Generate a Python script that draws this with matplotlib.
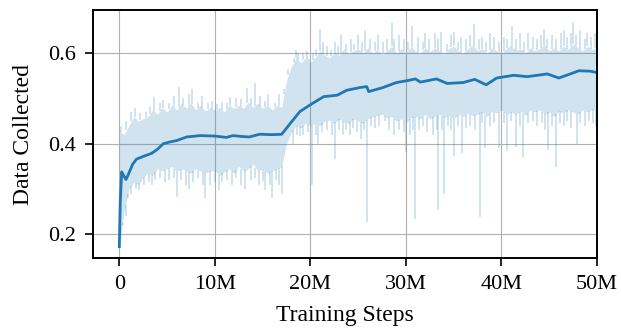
import numpy as np
import matplotlib
matplotlib.use("Agg")
import matplotlib.pyplot as plt

plt.rcParams['font.family'] = ['Liberation Serif', 'DejaVu Serif']

# smoothed curve (millions of steps, value)
smooth_x = [0, 0.1, 0.25, 0.45, 0.7, 1.0, 1.4, 1.8, 2.5, 3.4, 4.0, 4.6, 5.3, 6.0,
            7.05, 8.45, 10.0, 11.2, 11.9, 12.8, 13.6, 14.7, 16.0, 17.0, 17.9,
            18.9, 20.1, 21.4, 22.8, 23.8, 25.2, 25.9, 26.1, 27.6, 29.0, 30.1,
            31.0, 31.5, 33.2, 34.3, 36.0, 37.2, 38.4, 39.5, 41.3, 42.7, 44.8,
            46.0, 47.2, 48.1, 49.3, 50.0]
smooth_y = [0.173, 0.27, 0.338, 0.33, 0.321, 0.335, 0.355, 0.366, 0.372, 0.379, 0.388,
            0.400, 0.404, 0.407, 0.415, 0.418, 0.417, 0.414, 0.418, 0.416, 0.415,
            0.421, 0.420, 0.421, 0.445, 0.471, 0.4875, 0.504, 0.507, 0.518, 0.524,
            0.526, 0.515, 0.524, 0.535, 0.539, 0.543, 0.536, 0.543, 0.533, 0.535,
            0.542, 0.530, 0.545, 0.551, 0.548, 0.554, 0.545, 0.554, 0.561, 0.560,
            0.557]

# raw data spread: dense core of the noisy raw curve, every 0.5M steps
band_x = np.arange(0, 50.01, 0.5)
band_hi = [0.43, 0.42, 0.44, 0.46, 0.45, 0.455, 0.46, 0.475, 0.465, 0.48,
           0.47, 0.485, 0.475, 0.49, 0.478, 0.49, 0.475, 0.485, 0.472, 0.48,
           0.475, 0.48, 0.47, 0.485, 0.478, 0.485, 0.478, 0.492, 0.48, 0.49,
           0.478, 0.485, 0.475, 0.485, 0.48, 0.54, 0.57, 0.59, 0.578, 0.59,
           0.58, 0.59, 0.605, 0.595, 0.59, 0.6, 0.595, 0.61, 0.598, 0.605,
           0.61, 0.6, 0.612, 0.6, 0.608, 0.598, 0.605, 0.615, 0.6, 0.61,
           0.6, 0.615, 0.605, 0.6, 0.612, 0.603, 0.612, 0.605, 0.6, 0.61,
           0.615, 0.605, 0.6, 0.61, 0.618, 0.605, 0.61, 0.6, 0.612, 0.605,
           0.6, 0.61, 0.618, 0.605, 0.61, 0.6, 0.612, 0.605, 0.61, 0.618,
           0.605, 0.612, 0.605, 0.615, 0.608, 0.62, 0.612, 0.605, 0.615, 0.608,
           0.612]
band_lo = [0.17, 0.25, 0.3, 0.315, 0.31, 0.325, 0.335, 0.33, 0.345, 0.34,
           0.345, 0.35, 0.34, 0.345, 0.34, 0.335, 0.345, 0.34, 0.335, 0.34,
           0.34, 0.33, 0.338, 0.345, 0.335, 0.35, 0.34, 0.345, 0.355, 0.34,
           0.345, 0.335, 0.34, 0.345, 0.35, 0.4, 0.425, 0.44, 0.435, 0.445,
           0.44, 0.445, 0.44, 0.45, 0.452, 0.445, 0.455, 0.448, 0.445, 0.455,
           0.45, 0.445, 0.455, 0.46, 0.462, 0.465, 0.458, 0.46, 0.45, 0.455,
           0.445, 0.458, 0.46, 0.455, 0.465, 0.455, 0.46, 0.465, 0.458, 0.462,
           0.455, 0.465, 0.46, 0.468, 0.462, 0.465, 0.47, 0.46, 0.472, 0.468,
           0.475, 0.465, 0.47, 0.465, 0.472, 0.462, 0.475, 0.47, 0.475, 0.465,
           0.47, 0.46, 0.472, 0.468, 0.475, 0.47, 0.465, 0.475, 0.47, 0.476,
           0.475]

# raw data excursions above the core
up_x = [0.15, 0.75, 1.25, 1.6, 2.2, 2.75, 3.2, 3.6, 4.25, 4.6, 5.2, 5.75, 6.2, 6.7,
        7.25, 7.6, 8.2, 8.7, 9.25, 9.75, 10.25, 10.75, 11.25, 11.6, 12.25, 12.75,
        13.4, 13.8, 14.2, 14.75, 15.25, 15.6, 16.25, 16.7, 17.25,
        17.7, 18.25, 18.5, 18.75, 19.25, 19.6, 19.9, 20.25, 20.6,
        21.0, 21.35, 21.75, 22.2, 22.6, 22.9, 23.2, 23.75, 24.25, 24.6, 25.0,
        25.4, 25.7, 26.25, 26.75, 27.1, 27.6, 28.0, 28.5, 28.8, 29.25, 29.75,
        30.25, 30.6, 31.25, 31.75, 32.0, 32.4, 33.0, 33.4, 33.7, 34.25, 34.75,
        35.0, 35.4, 35.75, 36.25, 36.75, 37.1, 37.6, 38.0, 38.4, 38.8, 39.25,
        39.75, 40.25, 40.6, 41.1, 41.5, 41.9, 42.4, 42.8, 43.25, 43.75, 44.1,
        44.4, 44.8, 45.25, 45.75, 46.2, 46.5, 46.9, 47.25, 47.5, 47.8, 48.25,
        48.7, 49.0, 49.4, 49.8]
up_y = [0.44, 0.45, 0.47, 0.478, 0.468, 0.47, 0.48, 0.504, 0.49, 0.496, 0.49, 0.505,
        0.526, 0.50, 0.51, 0.52, 0.49, 0.505, 0.49, 0.495, 0.488, 0.492, 0.49, 0.504,
        0.50, 0.498, 0.522, 0.50, 0.533, 0.505, 0.495, 0.51, 0.49, 0.51, 0.52,
        0.565, 0.59, 0.606, 0.60, 0.60, 0.605, 0.587, 0.60, 0.61,
        0.654, 0.625, 0.615, 0.607, 0.625, 0.615, 0.639, 0.62, 0.63, 0.62, 0.64,
        0.625, 0.65, 0.63, 0.625, 0.64, 0.625, 0.63, 0.668, 0.63, 0.64, 0.63,
        0.625, 0.66, 0.635, 0.625, 0.645, 0.63, 0.645, 0.63, 0.646, 0.62, 0.64,
        0.646, 0.625, 0.635, 0.63, 0.64, 0.665, 0.63, 0.635, 0.625, 0.645, 0.635,
        0.625, 0.635, 0.63, 0.66, 0.63, 0.645, 0.625, 0.645, 0.635, 0.63, 0.64,
        0.654, 0.63, 0.64, 0.63, 0.645, 0.65, 0.635, 0.645, 0.668, 0.64, 0.65,
        0.63, 0.645, 0.635, 0.645]

# raw data excursions below the core
down_x = [0.35, 0.65, 0.9, 1.25, 1.75, 2.1, 2.6, 3.1, 3.4, 3.75, 4.25, 4.75, 5.25,
          5.75, 6.0, 6.5, 7.0, 7.3, 7.75, 8.25, 8.75, 9.0, 9.5, 10.0, 10.4, 10.8,
          11.25, 11.75, 12.25, 12.75, 13.2, 13.75, 14.25, 14.6, 15.0, 15.3, 15.75,
          16.0, 16.4, 16.75, 17.0,
          17.7, 18.2, 18.6, 18.9, 19.25, 19.75, 20.2, 20.6, 20.8, 21.25, 21.75,
          22.25, 22.6, 23.0, 23.4, 23.75, 24.1, 24.5, 24.9, 25.3, 25.6, 25.9,
          26.3, 26.75, 27.2, 27.8, 28.2, 28.8, 29.25, 29.75, 30.0, 30.4, 30.75,
          31.0, 31.4, 31.75, 32.25, 32.8, 33.2, 33.4,
          33.75, 34.0, 34.4, 34.75, 35.0, 35.4, 35.9, 36.25, 36.75, 37.25, 37.7,
          38.0, 38.3, 38.75, 39.25, 39.7, 40.25, 40.6, 41.0, 41.5, 41.9, 42.3,
          42.75, 43.25, 43.75, 44.25, 44.6, 44.9, 45.25, 45.7, 46.1, 46.5, 46.9,
          47.3, 47.9, 48.25, 48.75, 49.2, 49.6, 49.9]
down_y = [0.221, 0.24, 0.28, 0.29, 0.30, 0.297, 0.31, 0.315, 0.31, 0.32, 0.325,
          0.315, 0.32, 0.325, 0.283, 0.32, 0.31, 0.30, 0.315, 0.325, 0.31, 0.28,
          0.31, 0.315, 0.298, 0.315, 0.32, 0.31, 0.325, 0.31, 0.30, 0.32, 0.325,
          0.31, 0.318, 0.298, 0.31, 0.28, 0.32, 0.31, 0.29,
          0.41, 0.40, 0.42, 0.418, 0.42, 0.425, 0.308, 0.42, 0.40, 0.425, 0.43,
          0.42, 0.367, 0.43, 0.42, 0.43, 0.42, 0.435, 0.425, 0.41, 0.43, 0.227,
          0.44, 0.435, 0.44, 0.45, 0.43, 0.42, 0.43, 0.425, 0.382, 0.42, 0.43,
          0.235, 0.43, 0.44, 0.425, 0.42, 0.43, 0.254,
          0.43, 0.29, 0.44, 0.43, 0.374, 0.44, 0.38, 0.435, 0.44, 0.43, 0.238,
          0.445, 0.39, 0.44, 0.445, 0.39, 0.445, 0.385, 0.45, 0.393, 0.44, 0.371,
          0.445, 0.45, 0.44, 0.445, 0.43, 0.386, 0.44, 0.349, 0.445, 0.44, 0.45,
          0.435, 0.40, 0.445, 0.44, 0.45, 0.445, 0.44]

blue = '#1f77b4'
M = 1e6

fig = plt.figure(figsize=(6.21, 3.31), dpi=100)
ax = fig.add_axes([0.1498, 0.2205, 0.8116, 0.7493])
ax.set_axisbelow(True)
ax.grid(True, color='#b0b0b0', lw=0.8)

bx = band_x * M
ax.fill_between(bx, band_lo, band_hi, color=blue, alpha=0.2, lw=0)
ux = np.array(up_x) * M
dx = np.array(down_x) * M
ax.vlines(ux, np.interp(ux, bx, band_hi), up_y, color=blue, alpha=0.22, lw=1.3)
ax.vlines(dx, down_y, np.interp(dx, bx, band_lo), color=blue, alpha=0.22, lw=1.3)

ax.plot(np.array(smooth_x) * M, smooth_y, color=blue, lw=2.0)

ax.set_xlim(-2.75 * M, 50 * M)
ax.set_ylim(0.148, 0.695)
ax.set_xticks(np.arange(0, 51, 10) * M)
ax.set_xticklabels(['0', '10M', '20M', '30M', '40M', '50M'])
ax.set_yticks([0.2, 0.4, 0.6])
ax.set_yticklabels(['0.2', '0.4', '0.6'])
ax.tick_params(direction='out', length=6, width=1.2, pad=6, labelsize=16)
for s in ax.spines.values():
    s.set_linewidth(1.4)

ax.set_xlabel('Training Steps', fontsize=17)
ax.set_ylabel('Data Collected', fontsize=17)
ax.xaxis.set_label_coords(0.5, -0.19)
ax.yaxis.set_label_coords(-0.118, 0.5)

fig.savefig('out.png', dpi=100)
